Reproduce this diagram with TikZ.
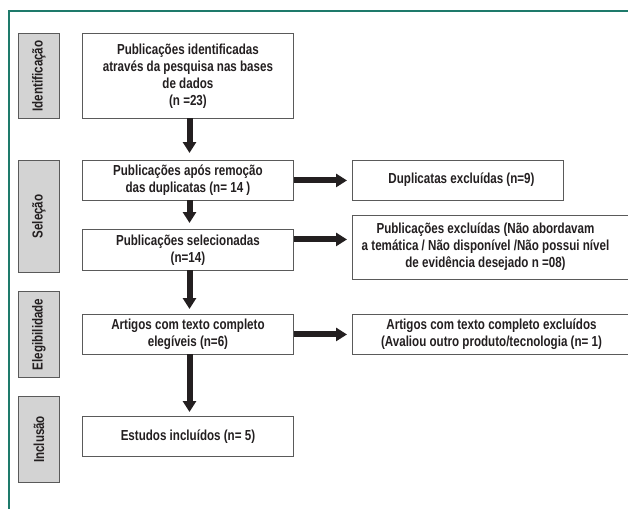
\documentclass[tikz,border=0pt]{standalone}
\usepackage{fontspec}
\setmainfont{Liberation Sans}[FakeStretch=0.8]
\usetikzlibrary{arrows.meta,calc}
\definecolor{frame}{HTML}{1E7A6B}
\definecolor{ink}{HTML}{231F20}
\definecolor{boxline}{HTML}{5A5A5A}
\definecolor{labfill}{HTML}{D3D3D3}
\tikzset{
  txt/.style={font=\bfseries\fontsize{14.5}{17}\selectfont},
  fbox/.style={draw=boxline, line width=0.9pt, fill=white, text=ink, align=center,
    inner sep=0pt, anchor=north west, txt},
  labbox/.style={draw=boxline, line width=0.9pt, fill=labfill, text=ink,
    inner sep=0pt, anchor=north west, minimum width=41pt},
  labtext/.style={rotate=90, text=ink, txt, inner sep=0pt},
  btext/.style={text=ink, align=center, inner sep=0pt, txt},
  bigarrow/.style={draw=ink, line width=6pt, -{Triangle[width=13pt,length=11pt]}},
}
\begin{document}
\begin{tikzpicture}[x=1pt,y=-1pt]
\useasboundingbox (0,0) rectangle (628,508);
\clip (0,0) rectangle (628,508);
% frame
\draw[frame, line width=1.5pt] (9,509) -- (9,11) -- (629,11);
% phase labels
\node[labbox, minimum height=85pt] (l1) at (18,33) {};
\node[labtext] at (l1.center) {Identificação};
\node[labbox, minimum height=112pt] (l2) at (18,160) {};
\node[labtext] at (l2.center) {Seleção};
\node[labbox, minimum height=86pt] (l3) at (18,291) {};
\node[labtext] at (l3.center) {Elegibilidade};
\node[labbox, minimum height=86pt] (l4) at (18,396) {};
\node[labtext] at (l4.center) {Inclusão};
% main boxes
\node[fbox, minimum width=211pt, minimum height=85pt] (b1) at (82,33)
  {Publicações identificadas\\através da pesquisa nas bases\\de dados\\(n =23)};
\node[fbox, minimum width=211pt, minimum height=40pt] (b2) at (82,160)
  {Publicações após remoção\\ das duplicatas (n= 14 )};
\node[fbox, minimum width=211pt, minimum height=41pt] (b3) at (82,229)
  {Publicações selecionadas\\(n=14)};
\node[fbox, minimum width=211pt, minimum height=40pt] (b4) at (82,314)
  {Artigos com texto completo\\elegíveis (n=6)};
\node[fbox, minimum width=211pt, minimum height=40pt] (b5) at (82,416)
  {Estudos incluídos (n= 5)};
% right boxes
\node[fbox, minimum width=211pt, minimum height=40pt] (r1) at (352,160) {};
\node[btext] at (461.5,180) {Duplicatas excluídas (n=9)};
\node[fbox, minimum width=290pt, minimum height=64pt] (r2) at (352,215) {};
\node[btext] at (485.5,247) {Publicações excluídas (Não abordavam\\a temática / Não disponível /Não possui nível\\de evidência desejado n =08)};
\node[fbox, minimum width=290pt, minimum height=40pt] (r3) at (352,314) {};
\node[btext] at (491.5,334) {Artigos com texto completo excluídos\\(Avaliou outro produto/tecnologia (n= 1)};
% vertical arrows
\coordinate (a1) at (189.5,118);
\draw[bigarrow] (a1) -- (a1 |- 0,153);
\coordinate (a2) at (189.5,200);
\draw[bigarrow] (a2) -- (a2 |- 0,223);
\coordinate (a3) at (189.5,270);
\draw[bigarrow] (a3) -- (a3 |- 0,309);
\coordinate (a4) at (189.5,354);
\draw[bigarrow] (a4) -- (a4 |- 0,412);
% horizontal arrows
\coordinate (h1) at (b2.east);
\draw[bigarrow, shorten >=5pt] (h1) -- (h1 -| r1.west);
\coordinate (h2) at ([yshift=10.5pt]b3.east);
\draw[bigarrow, shorten >=5pt] (h2) -- (h2 -| r2.west);
\coordinate (h3) at (b4.east);
\draw[bigarrow, shorten >=5pt] (h3) -- (h3 -| r3.west);
\end{tikzpicture}
\end{document}
